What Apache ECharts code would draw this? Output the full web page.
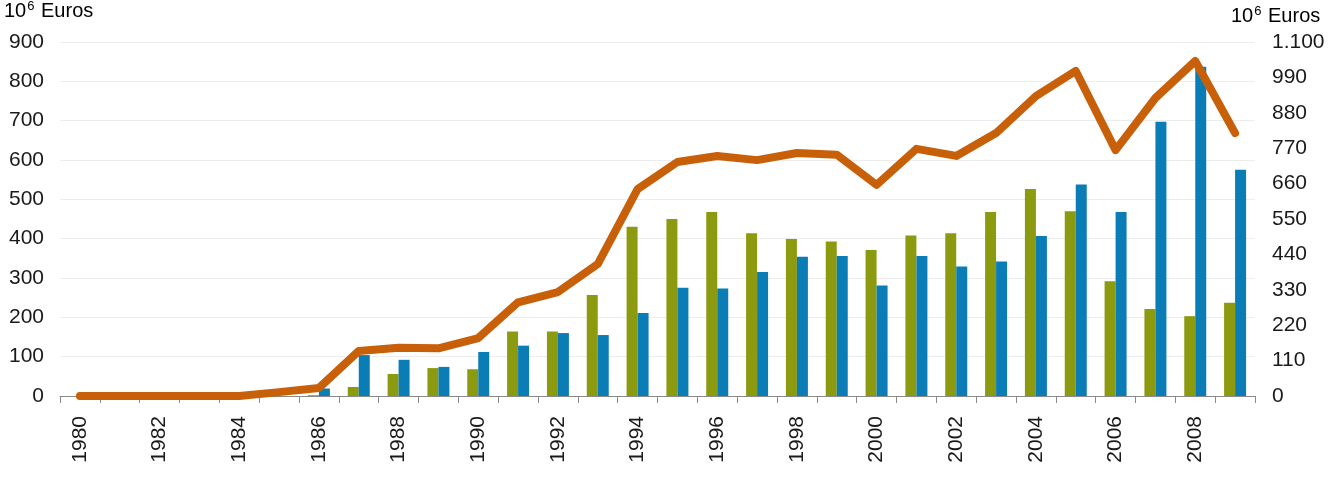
<!DOCTYPE html>
<html>
<head>
<meta charset="utf-8">
<script src="https://cdn.jsdelivr.net/npm/echarts@6/dist/echarts.min.js"></script>
<style>
  html, body { margin: 0; padding: 0; background: #fff; }
  #chart { width: 1331px; height: 477px; }
</style>
</head>
<body>
<div id="chart"></div>
<script>
// data
var years = ['1980','1981','1982','1983','1984','1985','1986','1987','1988','1989',
             '1990','1991','1992','1993','1994','1995','1996','1997','1998','1999',
             '2000','2001','2002','2003','2004','2005','2006','2007','2008','2009'];
// green bars (left axis)
var greenBars = [0,0,0,0,0,0,2,23,56,71,
                 68,164,164,257,430,450,468,414,399,393,
                 371,408,414,468,526,470,292,221,203,237];
// blue bars (left axis)
var blueBars = [0,0,0,0,0,0,19,104,92,74,
                112,128,160,155,211,275,273,315,354,356,
                281,356,329,342,407,538,468,697,837,575];
// orange line (right axis)
var lineValues = [0,0,0,0,0,12,25,140,150,148,
                  180,291,323,410,643,727,746,733,755,750,
                  656,768,746,817,932,1010,764,926,1041,817];

var leftTicks = { min: 0, max: 900, interval: 100 };
var rightTicks = { min: 0, max: 1100, interval: 110 };

var txt = '#1a1a1a';
var font = 'Liberation Sans, Arial, sans-serif';

var myChart = echarts.init(document.getElementById('chart'));

function fmtDot(v) {
    // 1100 -> 1.100
    var s = String(v);
    if (s.length > 3) s = s.slice(0, s.length - 3) + '.' + s.slice(s.length - 3);
    return s;
}

var unitRich = {
    b: { fontSize: 20, color: txt, fontFamily: font },
    s: { fontSize: 13, color: txt, fontFamily: font, padding: [0, 1, 10, 1] }
};

var option = {
    animation: false,
    backgroundColor: '#fff',
    grid: { left: 60, right: 76, top: 42, bottom: 81 },
    graphic: [
        { type: 'text', left: 4, top: 0,
          style: { text: '{b|10}{s|6}{b| Euros}', rich: unitRich } },
        { type: 'text', left: 1231, top: 5,
          style: { text: '{b|10}{s|6}{b| Euros}', rich: unitRich } }
    ],
    xAxis: {
        type: 'category',
        data: years,
        boundaryGap: true,
        axisLine: { lineStyle: { color: '#8a8a8a', width: 1 } },
        axisTick: { show: true, interval: 0, length: 7, lineStyle: { color: '#8a8a8a' } },
        axisLabel: {
            interval: 1, rotate: 90, margin: 20,
            color: txt, fontSize: 21, fontFamily: font
        },
        splitLine: { show: false }
    },
    yAxis: [
        {
            type: 'value',
            min: leftTicks.min, max: leftTicks.max, interval: leftTicks.interval,
            axisLine: { show: false },
            axisTick: { show: false },
            axisLabel: { margin: 16, color: txt, fontSize: 21, fontFamily: font },
            splitLine: { lineStyle: { color: '#ededed', width: 1 } }
        },
        {
            type: 'value',
            min: rightTicks.min, max: rightTicks.max, interval: rightTicks.interval,
            axisLine: { show: false },
            axisTick: { show: false },
            axisLabel: { margin: 17, color: txt, fontSize: 21, fontFamily: font,
                         formatter: fmtDot },
            splitLine: { show: false }
        }
    ],
    series: [
        {
            name: 'green',
            type: 'bar',
            yAxisIndex: 0,
            data: greenBars,
            barWidth: 11,
            barGap: '0%',
            itemStyle: { color: '#8c9a10' }
        },
        {
            name: 'blue',
            type: 'bar',
            yAxisIndex: 0,
            data: blueBars,
            barWidth: 11,
            barGap: '0%',
            itemStyle: { color: '#0b7db6' }
        },
        {
            name: 'line',
            type: 'line',
            yAxisIndex: 1,
            data: lineValues,
            showSymbol: false,
            symbol: 'none',
            z: 5,
            lineStyle: { color: '#c8600a', width: 8, join: 'round', cap: 'round' }
        }
    ]
};

myChart.setOption(option);
</script>
</body>
</html>
